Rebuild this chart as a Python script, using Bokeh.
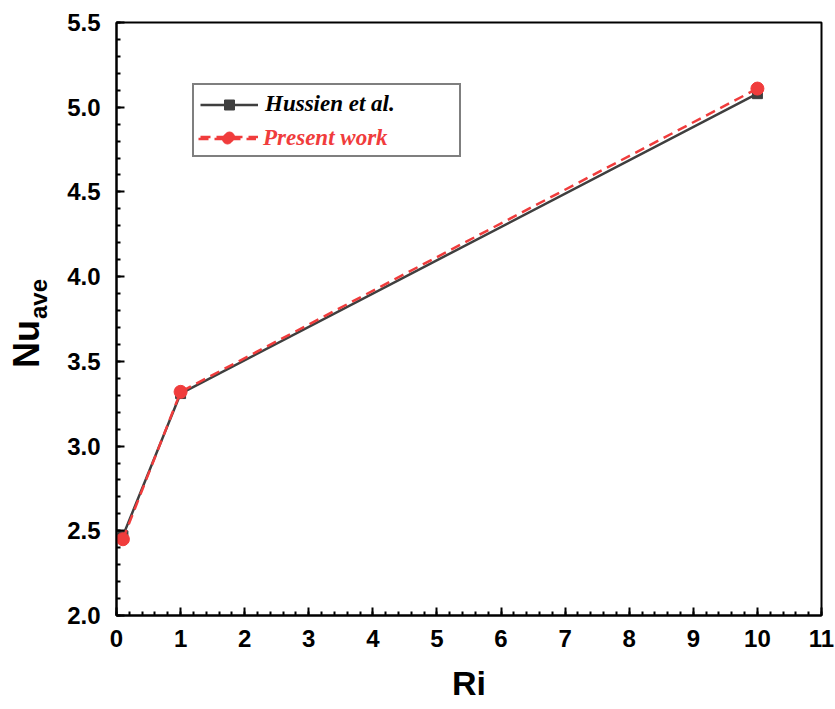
from bokeh.plotting import figure
from bokeh.models import (FixedTicker, Range1d, Legend, LegendItem,
                          CustomJSTickFormatter, LinearAxis)
from bokeh.embed import file_html
from bokeh.resources import INLINE

ri = [0.1, 1, 10]
nu_hussien = [2.47, 3.31, 5.08]
nu_present = [2.45, 3.32, 5.11]
x_ticks = list(range(0, 12))
y_ticks = [2.0, 2.5, 3.0, 3.5, 4.0, 4.5, 5.0, 5.5]

p = figure(width=835, height=709, output_backend="svg", toolbar_location=None,
           x_range=Range1d(0, 11), y_range=Range1d(2.0, 5.5),
           min_border_left=116, min_border_right=14, min_border_top=22, min_border_bottom=94)
p.xgrid.visible = False
p.ygrid.visible = False
p.background_fill_color = "white"
p.border_fill_color = "white"
p.outline_line_color = "black"
p.outline_line_width = 2
p.outline_line_alpha = 1

gray = "#3f3f3f"
red = "#f03c3c"

l1 = p.line(ri, nu_hussien, line_color=gray, line_width=2.5)
s1 = p.scatter(ri, nu_hussien, marker="square", size=10, fill_color=gray, line_color=gray)
l2 = p.line(ri, nu_present, line_color=red, line_width=2.5, line_dash="10 6")
s2 = p.scatter(ri, nu_present, marker="circle", size=13, fill_color=red, line_color=red)

for ax in (p.xaxis[0], p.yaxis[0]):
    ax.axis_line_width = 2
    ax.axis_line_color = "black"
    ax.major_tick_in = 8
    ax.major_tick_out = 0
    ax.minor_tick_in = 4
    ax.minor_tick_out = 0
    ax.major_tick_line_width = 2
    ax.minor_tick_line_width = 2
    ax.major_label_text_font = "Liberation Sans"
    ax.major_label_text_font_style = "bold"
    ax.major_label_text_font_size = "24px"
    ax.major_label_text_color = "black"

p.xaxis.major_label_standoff = 14
p.yaxis.major_label_standoff = 16

p.xaxis.ticker = FixedTicker(ticks=x_ticks,
                             minor_ticks=[i * 0.2 for i in range(0, 56)])
p.yaxis.ticker = FixedTicker(ticks=y_ticks,
                             minor_ticks=[2.0 + i * 0.1 for i in range(0, 36)])
p.yaxis.formatter = CustomJSTickFormatter(code="return tick.toFixed(1);")

# x axis title
p.xaxis.axis_label = "Ri"
p.xaxis.axis_label_text_font = "Liberation Sans"
p.xaxis.axis_label_text_font_style = "bold"
p.xaxis.axis_label_text_font_size = "34px"
p.xaxis.axis_label_text_color = "black"
p.xaxis.axis_label_standoff = 14

# y axis title: subscript "ave" on the main axis, "Nu" on an outer blank axis
p.yaxis.axis_label = "\u00a0" * 6 + "ave"
p.yaxis.axis_label_text_font = "Liberation Sans"
p.yaxis.axis_label_text_font_style = "bold"
p.yaxis.axis_label_text_font_size = "24px"
p.yaxis.axis_label_text_color = "black"
p.yaxis.axis_label_standoff = 12

nu_axis = LinearAxis(ticker=FixedTicker(ticks=[]), axis_line_alpha=0,
                     major_tick_in=0, major_tick_out=0, minor_tick_in=0, minor_tick_out=0,
                     axis_label="Nu" + "\u00a0" * 5, axis_label_standoff=-24,
                     axis_label_text_font="Liberation Sans",
                     axis_label_text_font_style="bold",
                     axis_label_text_font_size="36px", axis_label_text_color="black")
p.add_layout(nu_axis, "left")

# legend: outer box with both glyphs, black first label
item_h = LegendItem(label="Hussien et al.", renderers=[l1, s1])
item_p_blank = LegendItem(label=" ", renderers=[l2, s2])
legend = Legend(items=[item_h, item_p_blank], location=(76, 458))
legend.label_text_font = "Liberation Serif"
legend.label_text_font_style = "bold italic"
legend.label_text_font_size = "23px"
legend.label_text_color = "black"
legend.border_line_color = "black"
legend.border_line_width = 2
legend.glyph_width = 58
legend.glyph_height = 25
legend.label_height = 25
legend.label_width = 188
legend.spacing = 7
legend.padding = 6
legend.margin = 0
legend.label_standoff = 7
legend.background_fill_alpha = 1
p.add_layout(legend)

# second legend overlaid on row 2 for the red label
legend2 = Legend(items=[LegendItem(label="Present work", renderers=[l2, s2])],
                 location=(79, 461))
legend2.label_text_font = "Liberation Serif"
legend2.label_text_font_style = "bold italic"
legend2.label_text_font_size = "23px"
legend2.label_text_color = red
legend2.border_line_alpha = 0
legend2.background_fill_alpha = 0
legend2.glyph_width = 58
legend2.glyph_height = 25
legend2.label_height = 25
legend2.label_width = 188
legend2.spacing = 7
legend2.padding = 3
legend2.margin = 0
legend2.label_standoff = 7
p.add_layout(legend2)

open("out.html", "w").write(file_html(p, INLINE))
